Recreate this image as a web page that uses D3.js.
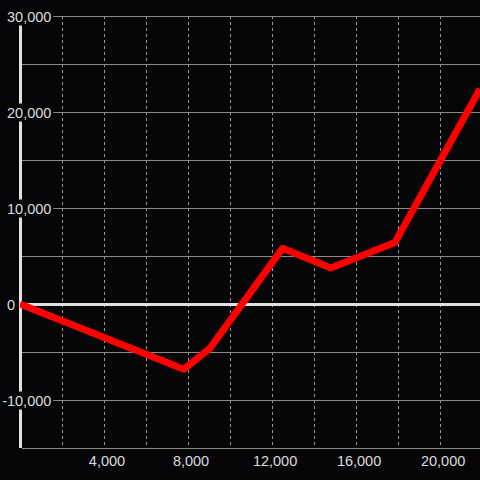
<!DOCTYPE html>
<html>
<head>
<meta charset="utf-8">
<script src="https://cdn.jsdelivr.net/npm/d3@7"></script>
<style>
  html, body { margin: 0; padding: 0; background: #060508; }
  svg { display: block; }
  text { font-family: "Liberation Sans", Arial, sans-serif; font-size: 14.5px; fill: #dcdcdc; }
</style>
</head>
<body>
<div id="chart"></div>
<script>
// data
let xValues = [0, 7800, 9050, 12500, 14800, 17850, 21900];
let yValues = [0, -6800, -4600, 5800, 3750, 6400, 22400];

// ticks
let yGridTicks = [-15000, -10000, -5000, 5000, 10000, 15000, 20000, 25000, 30000];
let yLabelTicks = [30000, 20000, 10000, 0, -10000];
let xGridTicks = [2000, 4000, 6000, 8000, 10000, 12000, 14000, 16000, 18000, 20000];
let xLabelTicks = [4000, 8000, 12000, 16000, 20000];

let width = 480;
let height = 480;

let x = d3.scaleLinear().domain([0, 21900]).range([20, 480]);
let y = d3.scaleLinear().domain([-15000, 30000]).range([448, 16]);
let fmt = d3.format(",");

let svg = d3.select("#chart").append("svg")
  .attr("width", width)
  .attr("height", height);

svg.append("rect")
  .attr("width", width)
  .attr("height", height)
  .attr("fill", "#060508");

// vertical dashed grid
svg.append("g").selectAll("line")
  .data(xGridTicks)
  .enter().append("line")
  .attr("x1", d => Math.round(x(d)) + 0.5)
  .attr("x2", d => Math.round(x(d)) + 0.5)
  .attr("y1", y(30000))
  .attr("y2", y(-15000))
  .attr("stroke", "#9a9a9a")
  .attr("stroke-width", 1)
  .attr("stroke-dasharray", "3,3");

// horizontal grid
svg.append("g").selectAll("line")
  .data(yGridTicks)
  .enter().append("line")
  .attr("x1", 22)
  .attr("x2", width)
  .attr("y1", d => Math.round(y(d)) + 0.5)
  .attr("y2", d => Math.round(y(d)) + 0.5)
  .attr("stroke", "#8a8a88")
  .attr("stroke-width", 1);

// zero line
svg.append("line")
  .attr("x1", 22)
  .attr("x2", width)
  .attr("y1", y(0) + 0.5)
  .attr("y2", y(0) + 0.5)
  .attr("stroke", "#e0e0e0")
  .attr("stroke-width", 3);

// y axis line
svg.append("line")
  .attr("x1", 20.5)
  .attr("x2", 20.5)
  .attr("y1", y(30000))
  .attr("y2", y(-15000))
  .attr("stroke", "#e0e0e0")
  .attr("stroke-width", 3);

// data line, clipped to plot area
svg.append("clipPath").attr("id", "plot")
  .append("rect")
  .attr("x", 20).attr("y", 0)
  .attr("width", width - 20).attr("height", height);

let line = d3.line()
  .x((d, i) => x(xValues[i]))
  .y(d => y(d));

svg.append("path")
  .datum(yValues)
  .attr("clip-path", "url(#plot)")
  .attr("d", line)
  .attr("fill", "none")
  .attr("stroke", "#ff0000")
  .attr("stroke-width", 7)
  .attr("stroke-linejoin", "round");

// y labels with dark backing box
let yLabels = svg.append("g").selectAll("g")
  .data(yLabelTicks)
  .enter().append("g");

yLabels.append("rect").attr("fill", "#060508");

yLabels.append("text")
  .attr("x", 7)
  .attr("y", d => y(d) + 5.5)
  .text(d => fmt(d).replace("−", "-"));

// negative labels hang the minus sign to the left
let minusWidth = (function() {
  let t = svg.append("text").text("-");
  let w = t.node().getComputedTextLength();
  t.remove();
  return w;
})();

yLabels.select("text")
  .attr("dx", d => d < 0 ? -minusWidth : 0);

yLabels.each(function() {
  let g = d3.select(this);
  let b = g.select("text").node().getBBox();
  g.select("rect")
    .attr("x", b.x - 2)
    .attr("y", b.y - 1)
    .attr("width", b.width + 4)
    .attr("height", b.height + 2);
});

// x labels
svg.append("g").selectAll("text")
  .data(xLabelTicks)
  .enter().append("text")
  .attr("x", d => x(d) + 3)
  .attr("y", 466)
  .attr("text-anchor", "middle")
  .text(d => fmt(d));
</script>
</body>
</html>
